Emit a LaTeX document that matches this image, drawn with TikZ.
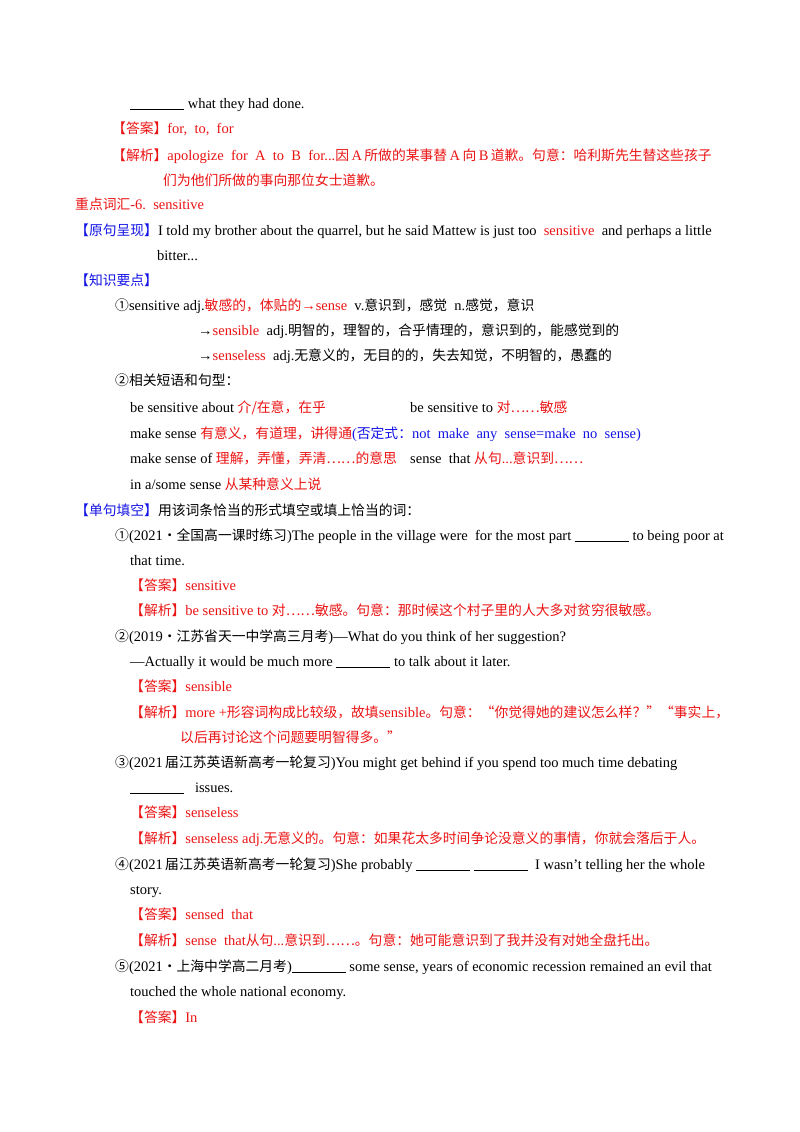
\documentclass[tikz,border=0pt]{standalone}
\usepackage{fontspec}
\setmainfont{Liberation Serif}
\newfontfamily\cjk{Noto Sans CJK SC}
\newcommand{\cj}[1]{{\cjk\fontsize{13.8}{15}\selectfont #1}}
\definecolor{rd}{RGB}{235,20,20}
\definecolor{bl}{RGB}{20,20,230}
\tikzset{ln/.style={anchor=base west,inner sep=0pt,font=\fontsize{14.5}{16}\selectfont}}
\newcommand{\R}[1]{\textcolor{rd}{#1}}
\newcommand{\B}[1]{\textcolor{bl}{#1}}
\newcommand{\bl}{\underline{\hspace{54pt}}}
\begin{document}
\begin{tikzpicture}[x=1pt,y=-1pt]
\useasboundingbox[fill=white] (0,0) rectangle (800,1132);
\node[ln] (l1) at (130,108) {\bl{} what they had done.};
\node[ln] (l2) at (112,133) {\R{\cj{【答案】}for,\ \ to,\ \ for}};
\node[ln] (l3) at (112,160) {\R{\cj{【解析】}apologize\ \ for\ \ A\ \ to\ \ B\ \ for...\cj{因}\,A\,\cj{所做的某事替}\,A\,\cj{向}\,B\,\cj{道歉。句意：哈利斯先生替这些孩子}}};
\node[ln] (l4) at (163,185) {\R{\cj{们为他们所做的事向那位女士道歉。}}};
\node[ln] (l5) at (75,209) {\R{\cj{重点词汇}-6.\ \ sensitive}};
\node[ln] (l6) at (75,235) {\B{\cj{【原句呈现】}}I told my brother about the quarrel, but he said Mattew is just too \ \R{sensitive}\ \ and perhaps a little};
\node[ln] (l7) at (157,260) {bitter...};
\node[ln] (l8) at (75,285) {\B{\cj{【知识要点】}}};
\node[ln] (l9) at (115,310) {\cj{①}sensitive adj.\R{\cj{敏感的，体贴的}→sense}\ \ v.\cj{意识到，感觉}\ \ n.\cj{感觉，意识}};
\node[ln] (l10) at (198,335) {→\R{sensible}\ \ adj.\cj{明智的，理智的，合乎情理的，意识到的，能感觉到的}};
\node[ln] (l11) at (198,360) {→\R{senseless}\ \ adj.\cj{无意义的，无目的的，失去知觉，不明智的，愚蠢的}};
\node[ln] (l12) at (115,385) {\cj{②相关短语和句型：}};
\node[ln] (l13) at (130,412) {be sensitive about \R{\cj{介/在意，在乎}}};
\node[ln] (l14) at (410,412) {be sensitive to \R{\cj{对……敏感}}};
\node[ln] (l15) at (130,438) {make sense \R{\cj{有意义，有道理，讲得通}}\B{(\cj{否定式：}not\ \ make\ \ any\ \ sense=make\ \ no\ \ sense)}};
\node[ln] (l16) at (130,463) {make sense of \R{\cj{理解，弄懂，弄清……的意思}}};
\node[ln] (l17) at (410,463) {sense\ \ that \R{\cj{从句}...\cj{意识到……}}};
\node[ln] (l18) at (130,489) {in a/some sense \R{\cj{从某种意义上说}}};
\node[ln] (l19) at (75,515) {\B{\cj{【单句填空】}}\cj{用该词条恰当的形式填空或填上恰当的词：}};
\node[ln] (l20) at (115,540) {\cj{①}(2021\cj{·全国高一课时练习})The people in the village were\ \ for the most part \bl{} to being poor at};
\node[ln] (l21) at (130,565) {that time.};
\node[ln] (l22) at (130,590) {\R{\cj{【答案】}sensitive}};
\node[ln] (l23) at (130,615) {\R{\cj{【解析】}be sensitive to \cj{对……敏感。句意：那时候这个村子里的人大多对贫穷很敏感。}}};
\node[ln] (l24) at (115,641) {\cj{②}(2019\cj{·江苏省天一中学高三月考})—What do you think of her suggestion?};
\node[ln] (l25) at (130,666) {—Actually it would be much more \bl{} to talk about it later.};
\node[ln] (l26) at (130,691) {\R{\cj{【答案】}sensible}};
\node[ln] (l27) at (130,717) {\R{\cj{【解析】}more\ +\cj{形容词构成比较级，故填}sensible\cj{。句意：“你觉得她的建议怎么样？”“事实上，}}};
\node[ln] (l28) at (180,742) {\R{\cj{以后再讨论这个问题要明智得多。”}}};
\node[ln] (l29) at (115,767) {\cj{③}(2021\,\cj{届江苏英语新高考一轮复习})You might get behind if you spend too much time debating};
\node[ln] (l30) at (130,792) {\bl\ \ \ issues.};
\node[ln] (l31) at (130,817) {\R{\cj{【答案】}senseless}};
\node[ln] (l32) at (130,843) {\R{\cj{【解析】}senseless adj.\cj{无意义的。句意：如果花太多时间争论没意义的事情，你就会落后于人。}}};
\node[ln] (l33) at (115,869) {\cj{④}(2021\,\cj{届江苏英语新高考一轮复习})She probably \bl{} \bl{}\ \ I wasn’t telling her the whole};
\node[ln] (l34) at (130,894) {story.};
\node[ln] (l35) at (130,919) {\R{\cj{【答案】}sensed\ \ that}};
\node[ln] (l36) at (130,945) {\R{\cj{【解析】}sense\ \ that\cj{从句}...\cj{意识到……。句意：她可能意识到了我并没有对她全盘托出。}}};
\node[ln] (l37) at (115,971) {\cj{⑤}(2021\cj{·上海中学高二月考})\bl{} some sense, years of economic recession remained an evil that};
\node[ln] (l38) at (130,996) {touched the whole national economy.};
\node[ln] (l39) at (130,1022) {\R{\cj{【答案】}In}};
\end{tikzpicture}
\end{document}
